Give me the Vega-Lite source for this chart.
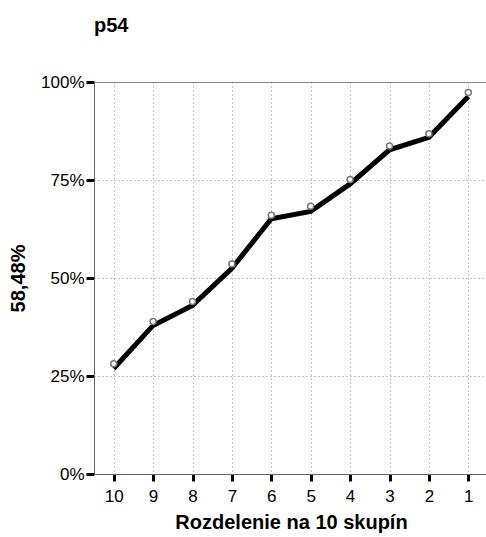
{
  "$schema": "https://vega.github.io/schema/vega-lite/v6.json",
  "autosize": "none",
  "padding": {"left": 94, "top": 82, "right": 0, "bottom": 63},
  "width": 394,
  "height": 392,
  "background": "white",
  "config": {
    "font": "Liberation Sans",
    "view": {"stroke": "#888888", "strokeWidth": 1}
  },
  "title": {
    "text": "p54",
    "anchor": "start",
    "frame": "group",
    "fontSize": 20,
    "fontWeight": "bold",
    "font": "Liberation Sans",
    "color": "#000000",
    "baseline": "alphabetic",
    "offset": 21
  },
  "data": {
    "values": [
      {"g": 10, "line": 0.269, "point": 0.281},
      {"g": 9, "line": 0.379, "point": 0.389},
      {"g": 8, "line": 0.430, "point": 0.440},
      {"g": 7, "line": 0.525, "point": 0.536},
      {"g": 6, "line": 0.651, "point": 0.660},
      {"g": 5, "line": 0.670, "point": 0.683},
      {"g": 4, "line": 0.740, "point": 0.751},
      {"g": 3, "line": 0.827, "point": 0.837},
      {"g": 2, "line": 0.859, "point": 0.868},
      {"g": 1, "line": 0.963, "point": 0.973}
    ]
  },
  "encoding": {
    "x": {
      "field": "g",
      "type": "ordinal",
      "sort": "descending",
      "scale": {"type": "point", "padding": 0.5},
      "axis": {
        "title": "Rozdelenie na 10 skupín",
        "titleFontSize": 20,
        "titleFontWeight": "bold",
        "titleColor": "#000000",
        "titlePadding": 8,
        "labelAngle": 0,
        "labelFontSize": 17,
        "labelColor": "#000000",
        "labelPadding": 7,
        "tickColor": "#000000",
        "tickWidth": 3,
        "tickSize": 7,
        "domainColor": "#666666",
        "grid": true,
        "gridColor": "#888888",
        "gridDash": [1, 3],
        "gridWidth": 1
      }
    }
  },
  "layer": [
    {
      "mark": {"type": "line", "color": "#000000", "strokeWidth": 5, "strokeJoin": "miter"},
      "encoding": {
        "y": {
          "field": "line",
          "type": "quantitative",
          "scale": {"domain": [0, 1]},
          "axis": {
            "title": "58,48%",
            "titleFontSize": 20,
            "titleFontWeight": "bold",
            "titleColor": "#000000",
            "titlePadding": 12,
            "values": [0, 0.25, 0.5, 0.75, 1],
            "format": ".0%",
            "labelFontSize": 17,
            "labelColor": "#000000",
            "labelPadding": 2,
            "tickColor": "#000000",
            "tickWidth": 3,
            "tickSize": 8,
            "domainColor": "#666666",
            "grid": true,
            "gridColor": "#888888",
            "gridDash": [1, 3],
            "gridWidth": 1
          }
        }
      }
    },
    {
      "mark": {"type": "point", "shape": "circle", "filled": false, "fill": "white", "fillOpacity": 1, "stroke": "#777777", "strokeWidth": 1.5, "size": 36, "opacity": 1},
      "encoding": {
        "y": {"field": "point", "type": "quantitative"}
      }
    }
  ]
}
